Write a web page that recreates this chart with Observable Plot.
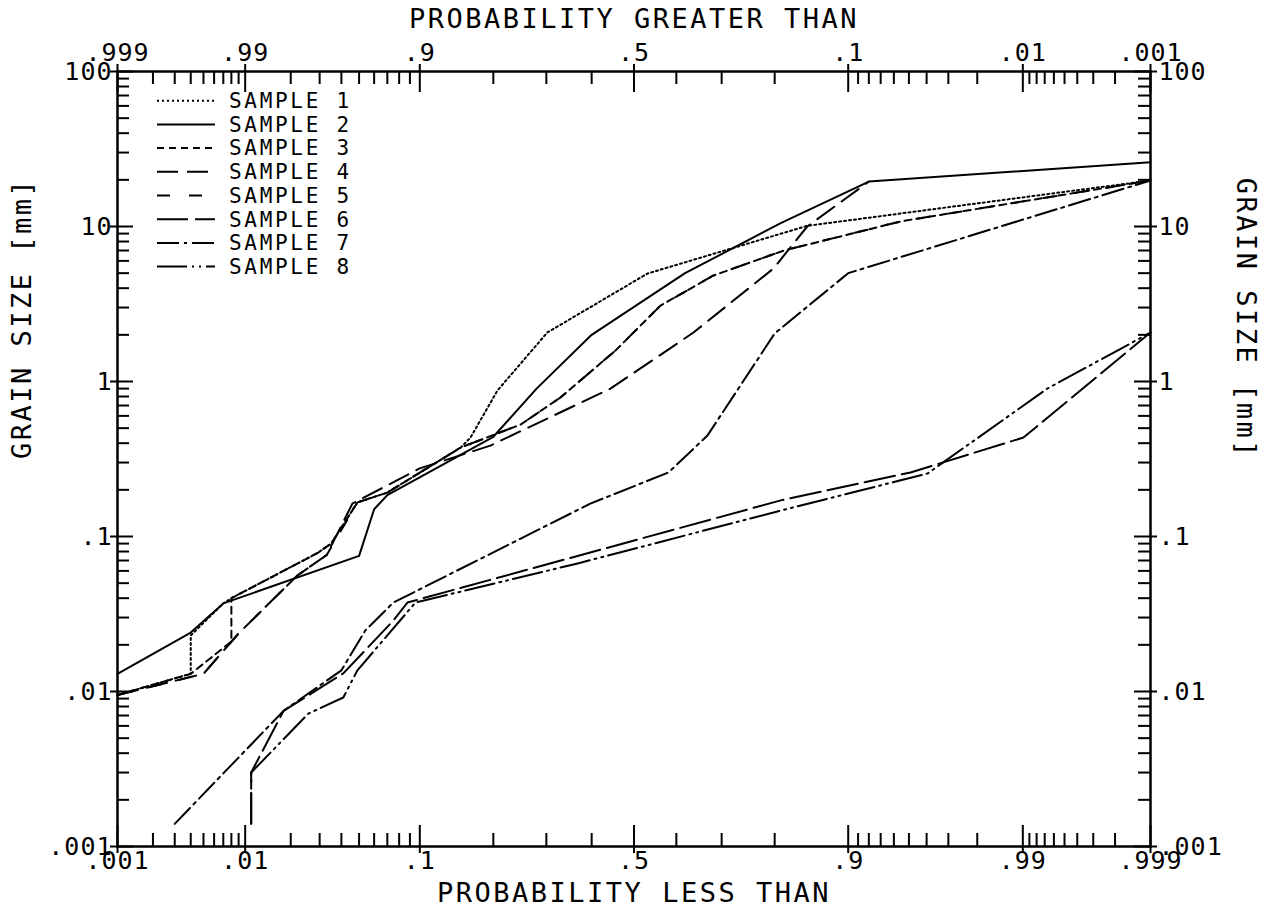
<!DOCTYPE html>
<html><head><meta charset="utf-8">
<script src="https://cdn.jsdelivr.net/npm/d3@7"></script>
<script src="https://cdn.jsdelivr.net/npm/@observablehq/plot@0.6"></script>
<style>
html,body{margin:0;padding:0;background:#fff;}
#chart svg text{letter-spacing:1px;}
#chart svg text.title{letter-spacing:2.5px;}
#chart svg text.leg{letter-spacing:2.7px;}
</style></head><body><div id="chart"></div>
<script>
// ---- data (probability less than, grain size in mm) ----
const sample1P    = [0.001, 0.004, 0.004, 0.007, 0.008, 0.029, 0.035, 0.049, 0.07, 0.15, 0.164, 0.207, 0.302, 0.532, 0.85, 0.999];
const sample1Size = [0.0095, 0.013, 0.023, 0.037, 0.04, 0.078, 0.09, 0.166, 0.192, 0.375, 0.435, 0.875, 2.07, 4.97, 10.1, 19.8];
const sample2P    = [0.001, 0.004, 0.007, 0.05, 0.06, 0.07, 0.2, 0.28, 0.4, 0.62, 0.81, 0.92, 0.999];
const sample2Size = [0.013, 0.024, 0.037, 0.075, 0.15, 0.185, 0.44, 0.9, 2.0, 5.0, 10.5, 19.5, 26];
const sample3P    = [0.001, 0.004, 0.008, 0.008, 0.029, 0.035, 0.049, 0.07, 0.15, 0.249, 0.33, 0.456, 0.563, 0.683, 0.815, 0.945, 0.999];
const sample3Size = [0.0095, 0.013, 0.021, 0.04, 0.078, 0.09, 0.166, 0.192, 0.375, 0.528, 0.789, 1.585, 3.09, 4.83, 7.0, 10.8, 19.8];
const sample4P    = [0.001, 0.005, 0.009, 0.022, 0.033, 0.046, 0.1, 0.195, 0.444, 0.639, 0.798, 0.85, 0.92];
const sample4Size = [0.0095, 0.013, 0.0237, 0.056, 0.076, 0.163, 0.275, 0.386, 0.9, 2.07, 5.36, 10, 19.5];
const sample5P    = [0.001, 0.005, 0.009, 0.022, 0.033, 0.049, 0.07, 0.15, 0.249, 0.33, 0.456, 0.563, 0.683, 0.815, 0.945, 0.999];
const sample5Size = [0.0095, 0.013, 0.0237, 0.056, 0.076, 0.166, 0.192, 0.375, 0.528, 0.789, 1.585, 3.09, 4.83, 7.0, 10.8, 19.8];
const sample6P    = [0.011, 0.011, 0.018, 0.041, 0.075, 0.0876, 0.81, 0.951, 0.9901, 0.999];
const sample6Size = [0.0014, 0.003, 0.0075, 0.0131, 0.0287, 0.0375, 0.171, 0.259, 0.435, 2.07];
const sample7P    = [0.003, 0.018, 0.04, 0.054, 0.075, 0.397, 0.582, 0.67, 0.8, 0.9, 0.999];
const sample7Size = [0.0014, 0.0075, 0.0137, 0.0248, 0.0375, 0.163, 0.259, 0.449, 2.04, 5.0, 19.8];
const sample8P    = [0.011, 0.011, 0.0257, 0.041, 0.049, 0.07, 0.0955, 0.368, 0.81, 0.9605, 0.9933, 0.999];
const sample8Size = [0.0014, 0.003, 0.0072, 0.00915, 0.0137, 0.023, 0.0375, 0.067, 0.147, 0.255, 0.9, 2.07];

const sampleNames = ["SAMPLE 1","SAMPLE 2","SAMPLE 3","SAMPLE 4","SAMPLE 5","SAMPLE 6","SAMPLE 7","SAMPLE 8"];

// axis ticks
const majorP = [0.001, 0.01, 0.1, 0.5, 0.9, 0.99, 0.999];
const bottomLabels = [".001", ".01", ".1", ".5", ".9", ".99", ".999"];
const topLabels = [".999", ".99", ".9", ".5", ".1", ".01", ".001"];
const minorP = [0.002,0.003,0.004,0.005,0.006,0.007,0.008,0.009,
                0.02,0.03,0.04,0.05,0.06,0.07,0.08,0.09,
                0.2,0.3,0.4,0.6,0.7,0.8,
                0.91,0.92,0.93,0.94,0.95,0.96,0.97,0.98,
                0.991,0.992,0.993,0.994,0.995,0.996,0.997,0.998];
const majorY = [100, 10, 1, 0.1, 0.01, 0.001];
const yLabels = ["100", "10", "1", ".1", ".01", ".001"];
const minorY = [0.002,0.003,0.004,0.005,0.006,0.007,0.008,0.009,
                0.02,0.03,0.04,0.05,0.06,0.07,0.08,0.09,
                0.2,0.3,0.4,0.5,0.6,0.7,0.8,0.9,
                2,3,4,5,6,7,8,9,
                20,30,40,50,60,70,80,90];

// ---- styles ----
const dashes = ["2,3", null, "7,5", "21,9", "13,19", "31,7", "22,5,3,5", "30,5,2,5,2,5"];

// inverse normal CDF (probability-paper transform)
function probit(p) {
  const a=[-3.969683028665376e+01,2.209460984245205e+02,-2.759285104469687e+02,1.383577518672690e+02,-3.066479806614716e+01,2.506628277459239e+00];
  const b=[-5.447609879822406e+01,1.615858368580409e+02,-1.556989798598866e+02,6.680131188771972e+01,-1.328068155288572e+01];
  const c=[-7.784894002430293e-03,-3.223964580411365e-01,-2.400758277161838e+00,-2.549732539343734e+00,4.374664141464968e+00,2.938163982698783e+00];
  const d=[7.784695709041462e-03,3.224671290700398e-01,2.445134137142996e+00,3.754408661907416e+00];
  const plow=0.02425, phigh=1-plow;
  if (p < plow) { const q=Math.sqrt(-2*Math.log(p)); return (((((c[0]*q+c[1])*q+c[2])*q+c[3])*q+c[4])*q+c[5])/((((d[0]*q+d[1])*q+d[2])*q+d[3])*q+1); }
  if (p <= phigh) { const q=p-0.5, r=q*q; return (((((a[0]*r+a[1])*r+a[2])*r+a[3])*r+a[4])*r+a[5])*q/(((((b[0]*r+b[1])*r+b[2])*r+b[3])*r+b[4])*r+1); }
  const q=Math.sqrt(-2*Math.log(1-p)); return -(((((c[0]*q+c[1])*q+c[2])*q+c[3])*q+c[4])*q+c[5])/((((d[0]*q+d[1])*q+d[2])*q+d[3])*q+1);
}

const samplePs = [sample1P, sample2P, sample3P, sample4P, sample5P, sample6P, sample7P, sample8P];
const sampleSizes = [sample1Size, sample2Size, sample3Size, sample4Size, sample5Size, sample6Size, sample7Size, sample8Size];
const rows = sampleNames.flatMap((name, k) => samplePs[k].map((p, i) => ({sample: name, p, size: sampleSizes[k][i]})));

const W = 1268, H = 911, mL = 117, mR = 118, mT = 71, mB = 65;
const FW = W - mL - mR, FH = H - mT - mB;

const majorZ = majorP.map(probit);
const minorZ = minorP.map(probit);
const bottomMap = new Map(majorZ.map((z, i) => [z, bottomLabels[i]]));
const topMap = new Map(majorZ.map((z, i) => [z, topLabels[i]]));
const yMap = new Map(majorY.map((v, i) => [v, yLabels[i]]));

const lineMarks = sampleNames.map((name, k) => Plot.line(rows.filter(r => r.sample === name), {
  x: d => probit(d.p), y: "size", stroke: "black", strokeWidth: 2,
  strokeDasharray: dashes[k] ?? undefined
}));

const chart = Plot.plot({
  width: W, height: H,
  marginLeft: mL, marginRight: mR, marginTop: mT, marginBottom: mB,
  style: {fontFamily: "'DejaVu Sans Mono', monospace", fontSize: "25px", background: "white", color: "black"},
  x: {type: "linear", domain: [probit(0.001), probit(0.999)]},
  y: {type: "log", domain: [0.001, 100]},
  marks: [
    ...lineMarks,
    // minor ticks (inward)
    Plot.ruleX(minorZ, {x: d => d, insetTop: FH - 13, strokeWidth: 2}),
    Plot.ruleX(minorZ, {x: d => d, insetBottom: FH - 13, strokeWidth: 2}),
    Plot.ruleY(minorY, {y: d => d, insetRight: FW - 12, strokeWidth: 2}),
    Plot.ruleY(minorY, {y: d => d, insetLeft: FW - 12, strokeWidth: 2}),
    // major ticks (cross the axis)
    Plot.ruleX(majorZ, {x: d => d, insetTop: FH - 21, insetBottom: -7, strokeWidth: 2}),
    Plot.ruleX(majorZ, {x: d => d, insetBottom: FH - 21, insetTop: -7, strokeWidth: 2}),
    Plot.ruleY(majorY, {y: d => d, insetRight: FW - 16, insetLeft: -7, strokeWidth: 2}),
    Plot.ruleY(majorY, {y: d => d, insetLeft: FW - 16, insetRight: -7, strokeWidth: 2}),
    Plot.frame({stroke: "black", strokeWidth: 2.5}),
    // tick labels
    Plot.axisX(majorZ, {anchor: "bottom", tickSize: 0, tickPadding: 5, tickFormat: z => bottomMap.get(z), label: null, fontSize: 25}),
    Plot.axisX(majorZ, {anchor: "top", tickSize: 0, tickPadding: 11, tickFormat: z => topMap.get(z), label: null, fontSize: 25}),
    Plot.axisY(majorY, {anchor: "left", tickSize: 0, tickPadding: 5, tickFormat: v => yMap.get(v), label: null, fontSize: 25}),
    Plot.axisY(majorY, {anchor: "right", tickSize: 0, tickPadding: 8, tickFormat: v => yMap.get(v), label: null, fontSize: 25}),
    // axis titles
    Plot.text(["PROBABILITY LESS THAN"], {text: d => d, frameAnchor: "bottom", lineAnchor: "middle", dy: 47, fontSize: 27}),
    Plot.text(["PROBABILITY GREATER THAN"], {text: d => d, frameAnchor: "top", lineAnchor: "middle", dy: -52, fontSize: 27}),
    Plot.text(["GRAIN SIZE [mm]"], {text: d => d, frameAnchor: "left", lineAnchor: "middle", dx: -95, rotate: -90, fontSize: 27}),
    Plot.text(["GRAIN SIZE [mm]"], {text: d => d, frameAnchor: "right", lineAnchor: "middle", dx: 95, rotate: 90, fontSize: 27})
  ]
});

// titles get wider letter spacing
d3.select(chart).selectAll("g[aria-label='text'] text").attr("class", "title");

// legend inside the frame, top-left
const leg = d3.select(chart).append("g").attr("class", "legend").attr("text-anchor", "start");
sampleNames.forEach((name, i) => {
  const y = 100.7 + 23.7 * i;
  const ln = leg.append("line").attr("x1", 157).attr("x2", 215).attr("y1", y).attr("y2", y)
    .attr("stroke", "black").attr("stroke-width", 2);
  if (dashes[i]) ln.attr("stroke-dasharray", dashes[i]);
  leg.append("text").attr("class", "leg").attr("x", 229).attr("y", y).attr("dy", "0.35em")
    .attr("text-anchor", "start").attr("font-size", 21).attr("fill", "black").text(name);
});

document.getElementById("chart").appendChild(chart);
</script></body></html>
